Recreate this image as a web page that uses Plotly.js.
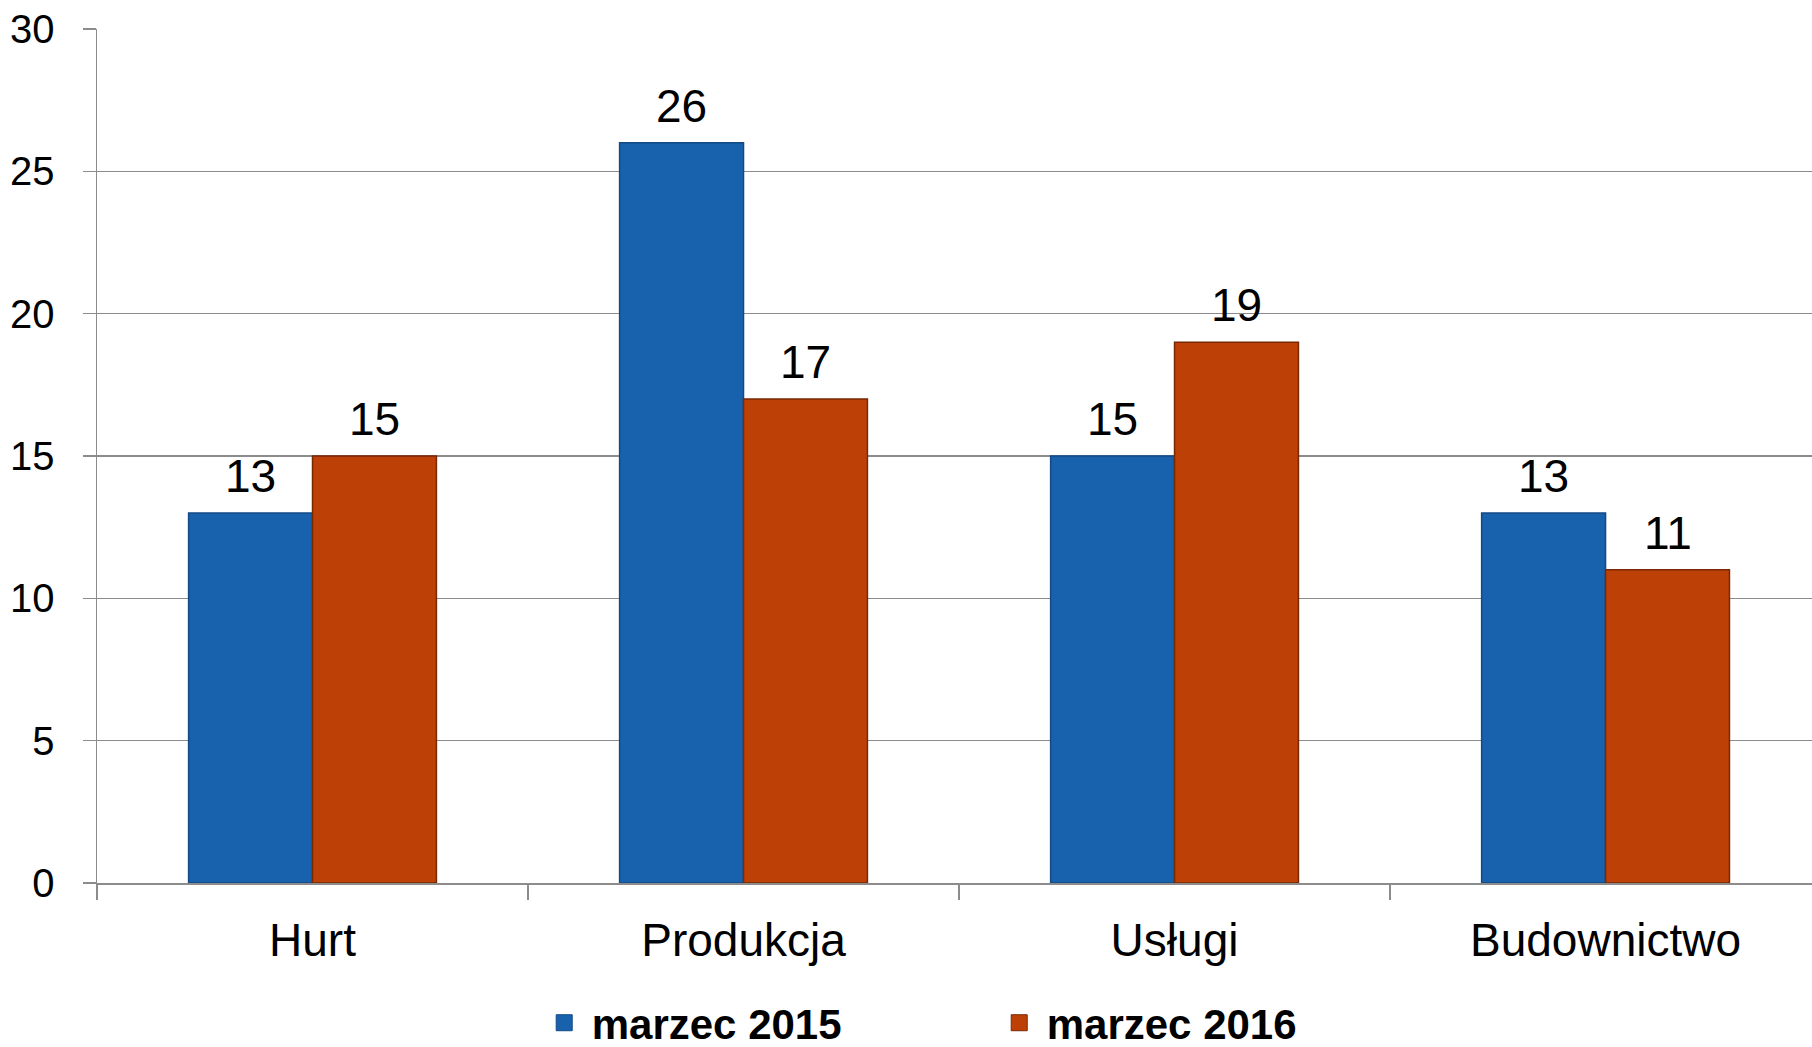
<!DOCTYPE html>
<html>
<head>
<meta charset="utf-8">
<script src="https://cdn.plot.ly/plotly-3.0.1.min.js"></script>
<style>html,body{margin:0;padding:0;background:#fff;}#chart{width:1812px;height:1047px;}</style>
</head>
<body>
<div id="chart"></div>
<script>
const categories = ["Hurt", "Produkcja", "Usługi", "Budownictwo"];
const series2015 = [13, 26, 15, 13];
const series2016 = [15, 17, 19, 11];
const seriesNames = ["marzec 2015", "marzec 2016"];
const yTicks = [0, 5, 10, 15, 20, 25, 30];

const FONT = "Liberation Sans, Arial, sans-serif";
const blue = "#1862ad", blueLine = "#124a85";
const orange = "#bd4006", orangeLine = "#7a2703";

function barTrace(name, vals, color, lineColor) {
  return {
    type: "bar", name: name, x: categories, y: vals,
    marker: {color: color, line: {color: lineColor, width: 1.5}},
    showlegend: false, hoverinfo: "x+y"
  };
}
function legendTrace(name, color, lineColor) {
  return {
    type: "scatter", mode: "markers", name: name, x: [null], y: [null],
    marker: {symbol: "square", size: 16, color: color, line: {color: lineColor, width: 1}},
    showlegend: true, hoverinfo: "skip"
  };
}

const data = [
  barTrace(seriesNames[0], series2015, blue, blueLine),
  barTrace(seriesNames[1], series2016, orange, orangeLine),
  legendTrace(seriesNames[0], blue, blueLine),
  legendTrace(seriesNames[1], orange, orangeLine)
];

// value labels above bars (built from the data arrays)
const labelShift = 62;
const annotations = [];
[series2015, series2016].forEach((vals, si) => {
  vals.forEach((v, ci) => {
    annotations.push({
      x: categories[ci], y: v, xref: "x", yref: "y",
      text: String(v), showarrow: false,
      xshift: si === 0 ? -labelShift : labelShift,
      yanchor: "bottom", yshift: 9,
      font: {family: FONT, size: 46, color: "#000"}
    });
  });
});

const layout = {
  width: 1812, height: 1047,
  margin: {l: 97, r: 0, t: 29, b: 164},
  paper_bgcolor: "#fff", plot_bgcolor: "#fff",
  barmode: "group", bargap: 0.425, bargroupgap: 0,
  font: {family: FONT, color: "#000"},
  xaxis: {
    type: "category", range: [-0.5, 3.479], tickson: "boundaries", ticks: "outside", ticklen: 15, tickwidth: 1.5, tickcolor: "#8c8c8c",
    showline: true, linecolor: "#8c8c8c", linewidth: 2, showgrid: false,
    tickfont: {family: FONT, size: 46, color: "#000"}, ticklabelstandoff: 16,
    fixedrange: true
  },
  yaxis: {
    range: [0, 30], tickvals: yTicks, ticks: "outside", ticklen: 13, tickwidth: 1.5, tickcolor: "#8c8c8c",
    showgrid: true, gridcolor: "#8c8c8c", gridwidth: 1.5, zeroline: false,
    showline: true, linecolor: "#8c8c8c", linewidth: 1.5,
    tickfont: {family: FONT, size: 40, color: "#000"}, ticklabelstandoff: 20,
    fixedrange: true
  },
  annotations: annotations,
  showlegend: true,
  legend: {
    orientation: "h", x: 0.5217, xanchor: "center", yref: "container", y: 0.023, yanchor: "middle",
    font: {family: FONT, size: 42, color: "#000", weight: "bold"},
    entrywidth: 395, itemwidth: 45, bgcolor: "rgba(0,0,0,0)"
  }
};

Plotly.newPlot("chart", data, layout, {displayModeBar: false, staticPlot: true});
</script>
</body>
</html>
